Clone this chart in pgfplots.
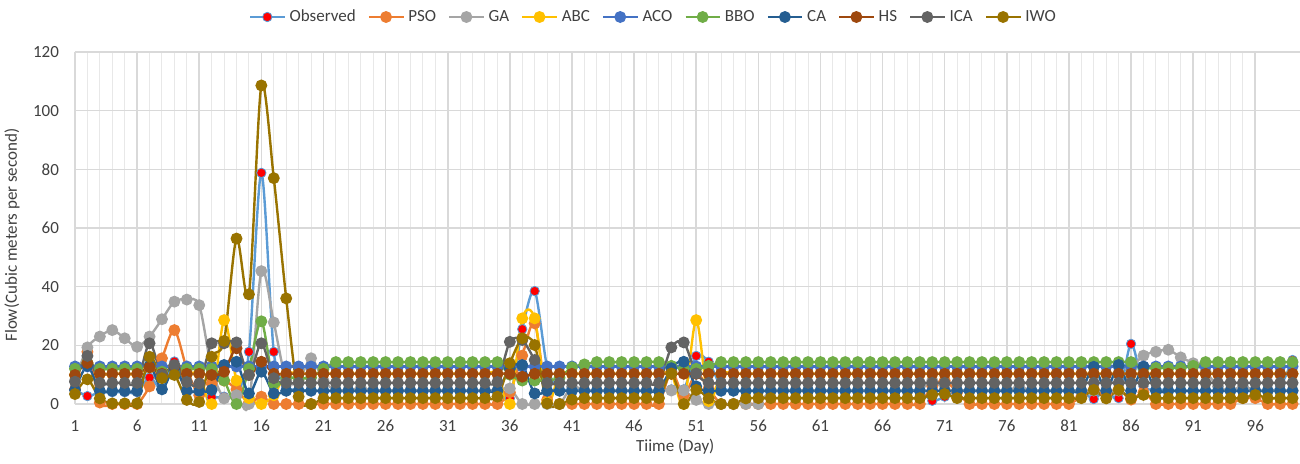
\documentclass[border=0pt]{standalone}
\usepackage{fontspec}
\setmainfont{Carlito}
\usepackage{pgfplots}
\usepackage{pgfplotstable}
\pgfplotsset{compat=1.18}

\definecolor{cObs}{HTML}{5B9BD5}
\definecolor{cPSO}{HTML}{ED7D31}
\definecolor{cGA}{HTML}{A5A5A5}
\definecolor{cABC}{HTML}{FFC000}
\definecolor{cACO}{HTML}{4472C4}
\definecolor{cBBO}{HTML}{70AD47}
\definecolor{cCA}{HTML}{255E91}
\definecolor{cHS}{HTML}{9E480E}
\definecolor{cICA}{HTML}{636363}
\definecolor{cIWO}{HTML}{997300}
\definecolor{gridc}{HTML}{D9D9D9}
\definecolor{gridm}{HTML}{E8E8E8}
\definecolor{txt}{HTML}{404040}

% daily flow: observed and model estimates (m^3/s)
\pgfplotstableread{
day obs pso ga abc aco bbo ca hs ica iwo
1 5 5 8 9.9 12.8 12 4.8 9.9 7.6 3.4
2 2.7 17.8 19.3 14 12.8 14 13 14 16.4 8.4
3 4 0.5 23 10.3 12.8 12 4.5 10.3 7.2 1.9
4 4 0 25.2 10.3 12.8 12 4.5 10.3 7.2 0.2
5 4 0 22.4 10.3 12.8 12 4.5 10.3 7.2 0.2
6 4 0 19.5 10.3 12.8 12 4.5 10.3 7.2 0.2
7 9 6 23 12.5 12.8 13 13 12.5 20.7 16.1
8 5.3 15.6 28.9 10.3 12.8 11 5 10.3 10 8.8
9 14.5 25.2 34.9 13 12.8 12 12.2 13 13.3 9.9
10 5 12 35.6 10.3 12.8 12 4.5 10.3 7.5 1.4
11 4 3 33.7 10.3 12.8 12 4.5 10.3 7 0.7
12 2.3 7 12 0 12.8 12 4.8 9.9 20.7 16.1
13 2.5 8 1.9 28.6 12.8 8 13.3 11 20.7 21.5
14 3.6 5 3 8 12.8 0 14.4 19 21 56.4
15 17.8 0.5 0 2 12.8 12 3.6 9.9 9.9 37.4
16 78.8 2.5 45.3 0 12.8 28.2 11 14.4 20.7 108.6
17 17.8 0 27.8 3 12.8 7 3.6 10.3 8.8 77
18 6 0 8.2 10.3 12.8 9 4.5 10.3 7.2 36
19 5 0 8 10.3 12.8 8.8 4.5 10.3 7.2 2.5
20 4.5 0 15.6 10.3 12.8 9 4.5 10.3 7.2 0
21 4.5 0 8 10.3 12.8 12 4.5 10.3 7.2 1.9
22 4.5 0 4.6 10.3 12.8 14.3 4.5 10.3 7.2 2
23 4.5 0 4.6 10.3 12.8 14.3 4.5 10.3 7.2 2
24 4.5 0 5.5 10.3 12.8 14.3 4.5 10.3 7.2 2
25 4.5 0 4.6 10.3 12.8 14.3 4.5 10.3 7.2 2
26 4.5 0 4.6 10.3 12.8 14.3 4.5 10.3 7.2 2
27 4.5 0 4.6 10.3 12.8 14.3 4.5 10.3 7.2 2
28 4.5 0 4.6 10.3 12.8 14.3 4.5 10.3 7.2 2
29 4.5 0 4.6 10.3 12.8 14.3 4.5 10.3 7.2 2
30 4.5 0 4.6 10.3 12.8 14.3 4.5 10.3 7.2 2
31 4.5 0 4.6 10.3 12.8 14.3 4.5 10.3 7.2 2
32 4.5 0 4.6 10.3 12.8 14.3 4.5 10.3 7.2 2
33 4.5 0 4.6 10.3 12.8 14.3 4.5 10.3 7.2 2
34 4.5 0 4.6 10.3 12.8 14.3 4.5 10.3 7.2 2
35 4.5 0 4.6 10.3 12.8 14.3 4.5 10.3 7.5 2.5
36 1.9 4 5.3 0 12.8 10 12 10.3 21.2 13.9
37 25.5 16.5 0 29.2 12.8 8 13.3 9.3 21.8 22.4
38 38.5 27.5 0 29.2 12.8 8 3.6 10.3 15 20.1
39 12.7 1.4 0 0.5 12.8 8 4.5 10.3 7.2 0.2
40 5 0 0 10.3 12.8 9 4.5 10.3 7.2 0
41 5.3 0 5.9 10.3 12.8 12.5 4.5 10.3 7.2 1.5
42 4.5 0 4.6 10.3 12.8 13.5 4.5 10.3 7.2 2
43 4.5 0 4.6 10.3 12.8 14.3 4.5 10.3 7.2 2
44 4.5 0 4.6 10.3 12.8 14.3 4.5 10.3 7.2 2
45 4.5 0 4.6 10.3 12.8 14.3 4.5 10.3 7.2 2
46 4.5 0 4.6 10.3 12.8 14.3 4.5 10.3 7.2 2
47 4.5 0 4.6 10.3 12.8 14.3 4.5 10.3 7.2 2
48 4.5 0 4.6 10.3 12.8 14.3 4.5 10.3 7.2 2
49 5 11 4.6 10.3 12.8 13 12.2 10.3 19.3 10.4
50 5 3 4.6 0 12.8 12 14.4 10.3 21 0
51 16.4 10.4 1.4 28.6 12.8 12 6 10.3 10.4 4.8
52 14.4 5.3 0 1 12.8 13 4.5 10.3 7.2 1.9
53 6 0 0 10.3 12.8 14.3 4.5 10.3 7.2 0
54 4.5 0 0 10.3 12.8 14.3 4.5 10.3 7.2 0
55 4.5 0 0 10.3 12.8 14.3 4.5 10.3 7.2 1.9
56 4.5 0 0 10.3 12.8 14.3 4.5 10.3 7.2 2
57 4.5 0 4.6 10.3 12.8 14.3 4.5 10.3 7.2 2
58 4.5 0 4.6 10.3 12.8 14.3 4.5 10.3 7.2 2
59 4.5 0 4.6 10.3 12.8 14.3 4.5 10.3 7.2 2
60 4.5 0 4.6 10.3 12.8 14.3 4.5 10.3 7.2 2
61 4.5 0 4.6 10.3 12.8 14.3 4.5 10.3 7.2 2
62 4.5 0 4.6 10.3 12.8 14.3 4.5 10.3 7.2 2
63 4.5 0 4.6 10.3 12.8 14.3 4.5 10.3 7.2 2
64 4.5 0 4.6 10.3 12.8 14.3 4.5 10.3 7.2 2
65 4.5 0 4.6 10.3 12.8 14.3 4.5 10.3 7.2 2
66 4.5 0 4.6 10.3 12.8 14.3 4.5 10.3 7.2 2
67 4.5 0 4.6 10.3 12.8 14.3 4.5 10.3 7.2 2
68 4.5 0 4.6 10.3 12.8 14.3 4.5 10.3 7.2 2
69 4.5 0 4.6 10.3 12.8 14.3 4.5 10.3 7.2 2
70 1.1 6 8 10.3 12.8 14.3 4.5 10.3 7.2 3.1
71 2.5 8 5 10.3 12.8 14.3 4.5 10.3 7.2 3.4
72 4.5 4 4.6 10.3 12.8 14.3 4.5 10.3 7.2 2
73 4.5 0 4.6 10.3 12.8 14.3 4.5 10.3 7.2 2
74 4.5 0 4.6 10.3 12.8 14.3 4.5 10.3 7.2 2
75 4.5 0 4.6 10.3 12.8 14.3 4.5 10.3 7.2 2
76 4.5 0 4.6 10.3 12.8 14.3 4.5 10.3 7.2 2
77 4.5 0 5.8 10.3 12.8 14.3 4.5 10.3 7.2 2
78 4.5 0 4.6 10.3 12.8 14.3 4.5 10.3 7.2 2
79 4.5 0 4.6 10.3 12.8 14.3 4.5 10.3 7.2 2
80 4.5 0 4.6 10.3 12.8 14.3 4.5 10.3 7.2 2
81 4.5 0 4.6 10.3 12.8 14.3 4.5 10.3 7.2 2
82 4.5 2.5 4.6 10.3 12.8 14.3 4.5 10.3 7.2 2
83 1.7 5 4.6 10.3 12.8 14.3 12.7 10.3 7.2 4.8
84 5 3.5 4.6 10.3 12.8 14.3 4.5 10.3 7.2 1.9
85 2 5 4.6 10.3 12.8 14.3 13.3 10.3 7.2 4.8
86 20.5 1.5 12 10.3 12.8 14.3 4.5 10.3 7.2 1.9
87 6 4 16.5 10.3 12.8 12.3 12.7 10.3 7.2 3.1
88 5.3 0 17.8 10.3 12.8 12.3 4.5 10.3 7.2 2
89 4.5 0 18.5 10.3 12.8 12.3 4.5 10.3 7.2 2
90 4.5 0 15.9 10.3 12.8 12.3 4.5 10.3 7.2 2
91 4.5 0 13.9 10.3 12.8 13 4.5 10.3 7.2 2
92 4.5 0 11 10.3 12.8 14.3 4.5 10.3 7.2 2
93 4.5 0 6 10.3 12.8 14.3 4.5 10.3 7.2 2
94 4.5 0 4.6 10.3 12.8 14.3 4.5 10.3 7.2 2
95 4.5 2 6 10.3 12.8 14.3 4.5 10.3 7.2 2
96 4.5 2 4.6 10.3 12.8 14.3 4.5 10.3 7.2 3.1
97 4.5 0 4.6 10.3 12.8 14.3 4.5 10.3 7.2 2
98 6 0 4.6 10.3 12.8 14.3 4.5 10.3 7.2 2
99 15 0 4.6 10.3 12.8 14.3 4.5 10.3 7.2 2
}\flowdata

\begin{document}
\begin{tikzpicture}
\begin{axis}[
  scale only axis,
  width=612.5pt, height=176pt,
  xmin=1, xmax=99.6, ymin=0, ymax=120,
  xtick={1,6,...,96}, minor x tick num=4,
  ytick={0,20,...,120},
  grid=both,
  major grid style={draw=gridc, line width=0.8pt},
  minor grid style={draw=gridm, line width=0.5pt},
  axis line style={draw=none},
  tick style={draw=none},
  clip=false,
  /pgf/number format/assume math mode=true,
  tick label style={font=\fontsize{8.5}{10}\selectfont, text=txt},
  yticklabel style={xshift=-4.5pt},
  xticklabel style={yshift=-4.5pt},
  xlabel={Tiime (Day)},
  ylabel={Flow(Cubic meters per second)},
  label style={font=\fontsize{8.5}{10}\selectfont, text=txt},
  xlabel style={at={([yshift=-21.5pt]axis description cs:0.49,0)}, anchor=center},
  ylabel style={at={([xshift=-31.5pt]axis description cs:0,0.48)}, anchor=center},
  legend columns=10,
  legend style={at={([yshift=17.5pt]axis description cs:0.473,1)}, anchor=center,
    draw=none, fill=none, font=\fontsize{8.5}{10}\selectfont, text=txt,
    /tikz/every even column/.append style={column sep=4pt}},
  every axis plot/.append style={line width=1.2pt, smooth, tension=0.5,
    mark=*, mark size=2.35pt},
]
\coordinate (bl) at (rel axis cs:0,0);
\addplot[cObs, mark options={fill=red, draw=cObs, line width=0.4pt}] table[x=day,y=obs]{\flowdata};
\addlegendentry{Observed}
\addplot[cPSO, mark options={fill=cPSO}] table[x=day,y=pso]{\flowdata};
\addlegendentry{PSO}
\addplot[cGA, mark options={fill=cGA}] table[x=day,y=ga]{\flowdata};
\addlegendentry{GA}
\addplot[cABC, mark options={fill=cABC}] table[x=day,y=abc]{\flowdata};
\addlegendentry{ABC}
\addplot[cACO, mark options={fill=cACO}] table[x=day,y=aco]{\flowdata};
\addlegendentry{ACO}
\addplot[cBBO, mark options={fill=cBBO}] table[x=day,y=bbo]{\flowdata};
\addlegendentry{BBO}
\addplot[cCA, mark options={fill=cCA}] table[x=day,y=ca]{\flowdata};
\addlegendentry{CA}
\addplot[cHS, mark options={fill=cHS}] table[x=day,y=hs]{\flowdata};
\addlegendentry{HS}
\addplot[cICA, mark options={fill=cICA}] table[x=day,y=ica]{\flowdata};
\addlegendentry{ICA}
\addplot[cIWO, mark options={fill=cIWO}] table[x=day,y=iwo]{\flowdata};
\addlegendentry{IWO}
\end{axis}
\pgfresetboundingbox
\path[use as bounding box] (bl) ++(-37.5pt,-29.5pt) rectangle ++(650pt,231.5pt);
\end{tikzpicture}
\end{document}
